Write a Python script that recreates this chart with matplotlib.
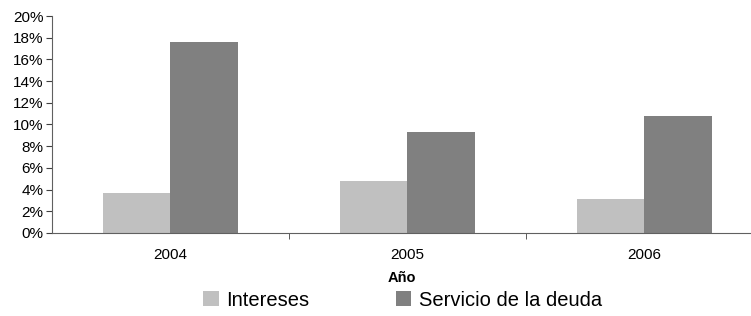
import numpy as np
import matplotlib
matplotlib.use("Agg")
import matplotlib.pyplot as plt
from matplotlib.ticker import FuncFormatter, FixedLocator

plt.rcParams['font.family'] = ['Liberation Sans', 'DejaVu Sans']

years      = ['2004', '2005', '2006']
intereses  = [3.7, 4.8, 3.1]
servicio   = [17.6, 9.3, 10.8]

fig = plt.figure(figsize=(7.51, 3.16), dpi=100)
ax = fig.add_axes([52 / 751, 83 / 316, 1 - 52 / 751, 217 / 316])

x = np.arange(len(years))
w = 0.285
ax.bar(x - w / 2, intereses, w, color='#c0c0c0', label='Intereses')
ax.bar(x + w / 2, servicio, w, color='#808080', label='Servicio de la deuda')

ax.set_xlim(-0.5, 2.45)
ax.set_ylim(0, 20)
ax.set_yticks(np.arange(0, 21, 2))
ax.yaxis.set_major_formatter(FuncFormatter(lambda v, p: f"{v:.0f}%"))
ax.set_xticks(x)
ax.set_xticklabels(years)
ax.xaxis.set_minor_locator(FixedLocator([0.5, 1.5]))
ax.tick_params(axis='x', which='major', length=0, pad=11, labelsize=11)
ax.tick_params(axis='x', which='minor', length=4, direction='out', color='#404040')
ax.tick_params(axis='y', length=4, direction='out', labelsize=11, pad=2, color='#404040')
for s in ['top', 'right']:
  ax.spines[s].set_visible(False)
for s in ['left', 'bottom']:
  ax.spines[s].set_color('#606060')
ax.set_xlabel('Año', fontsize=10.5, fontweight='bold', labelpad=6)

fig.legend(loc='center', bbox_to_anchor=(403 / 751, 1 - 300 / 316), ncol=2,
           frameon=False, fontsize=14.5, handlelength=0.75, handleheight=0.75,
           handletextpad=0.4, columnspacing=4.3)

fig.savefig('out.png', dpi=100)
